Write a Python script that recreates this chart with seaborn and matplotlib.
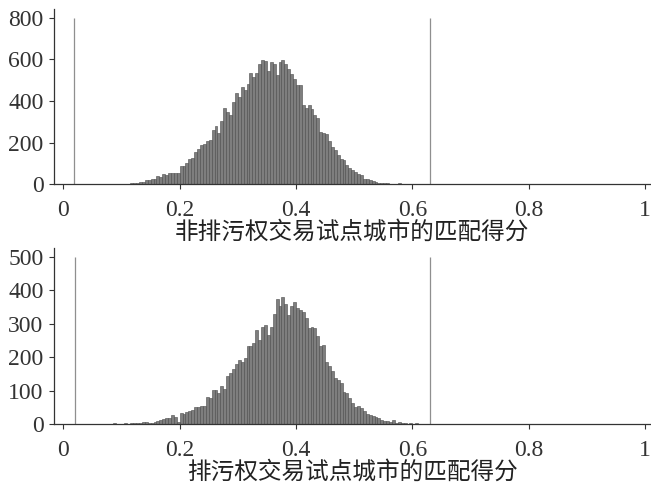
import numpy as np
import pandas as pd
import seaborn as sns
import matplotlib.pyplot as plt
from matplotlib.ticker import FixedLocator, FixedFormatter

# histogram data: bins of width 0.005 starting at 0.02
bin_start = 0.02
bin_width = 0.005

# non pilot cities (upper panel)
control_counts = [
    1, 0, 1, 1, 0, 1, 1, 1,
    1, 1, 2, 1, 1, 2, 2, 1,
    3, 2, 3, 4, 6, 8, 9, 11,
    20, 22, 25, 27, 40, 36, 48, 43, 52, 54, 55, 54,
    87, 89, 100, 122, 127, 155, 170, 190, 195, 208,
    212, 260, 278, 248, 304, 368, 347, 330, 395, 440,
    421, 467, 454, 482, 534, 515, 534, 579, 598, 592,
    544, 587, 579, 523, 587, 595, 576, 555, 528, 507,
    478, 475, 380, 368, 378, 360, 330, 318, 251, 246,
    243, 206, 179, 163, 139, 123, 115, 91, 78, 67,
    59, 48, 42, 27, 24, 19, 13, 11, 8, 6,
    5, 6, 3, 2, 2, 4, 3, 2, 2, 1,
    1, 2, 1, 1, 1, 1,
]

# pilot cities (lower panel)
treated_counts = [
    0, 1, 0, 0, 1, 0, 0, 1,
    1, 0, 1, 1, 1, 2, 1, 1,
    1, 2, 1, 3, 3, 2, 2, 7, 7, 4,
    4, 6, 9, 12, 14, 17, 19, 27, 20, 7,
    32, 30, 37, 40, 42, 52, 52, 54, 54, 82,
    77, 102, 102, 92, 114, 104, 144, 152, 164, 180,
    190, 184, 197, 232, 232, 242, 280, 252, 290, 297,
    267, 290, 330, 374, 352, 380, 360, 327, 354, 364,
    347, 340, 334, 317, 287, 290, 287, 262, 234, 237,
    184, 172, 157, 137, 132, 122, 97, 94, 77, 64,
    52, 54, 47, 40, 30, 27, 24, 20, 17, 12,
    9, 8, 7, 12, 4, 6, 3, 2, 1, 2,
    1, 2, 1, 0, 0, 1,
]

# min / max of the matched scores (grey vertical lines)
control_range = [0.0188, 0.630]
treated_range = [0.020, 0.630]

xticks = [0, 0.2, 0.4, 0.6, 0.8, 1]
xtick_labels = ['0', '0.2', '0.4', '0.6', '0.8', '1']
control_yticks = [0, 200, 400, 600, 800]
treated_yticks = [0, 100, 200, 300, 400, 500]
control_label = '非排污权交易试点城市的匹配得分'
treated_label = '排污权交易试点城市的匹配得分'

sns.set_style('ticks')
plt.rcParams['font.family'] = ['Liberation Serif', 'DejaVu Serif']
plt.rcParams['axes.edgecolor'] = '#333333'
plt.rcParams['xtick.color'] = '#333333'
plt.rcParams['ytick.color'] = '#333333'


def drawPanel(ax, counts, vline_x, yticks, ymax, label):
    n = len(counts)
    df = pd.DataFrame({'score': bin_start + bin_width * (np.arange(n) + 0.5),
                       'freq': counts})
    sns.histplot(data=df, x='score', weights='freq', binwidth=bin_width,
                 binrange=(bin_start, bin_start + n * bin_width), ax=ax,
                 color='#7e7e7e', edgecolor='#4a4a4a', linewidth=0.4, alpha=1)
    ax.vlines(vline_x, 0, yticks[-1], color='#8f8f8f', linewidth=0.9)
    ax.set_xlim(-0.016, 1.0086)
    ax.set_ylim(0, ymax)
    ax.xaxis.set_major_locator(FixedLocator(xticks))
    ax.xaxis.set_major_formatter(FixedFormatter(xtick_labels))
    ax.set_yticks(yticks)
    ax.tick_params(labelsize=17, length=3.5, width=0.8)
    ax.tick_params(axis='x', pad=8)
    ax.tick_params(axis='y', pad=4)
    ax.set_ylabel('')
    ax.set_xlabel(label, fontsize=17, family=['Noto Sans CJK SC', 'DejaVu Sans'],
                  fontweight='light', labelpad=0, color='#222222')
    for s in ['top', 'right']:
        ax.spines[s].set_visible(False)
    for s in ['left', 'bottom']:
        ax.spines[s].set_linewidth(0.9)


fig = plt.figure(figsize=(6.51, 4.86), dpi=100)
ax1 = fig.add_axes([0.083, 0.621, 0.9155, 0.360])
ax2 = fig.add_axes([0.083, 0.1276, 0.9155, 0.3615])

drawPanel(ax1, control_counts, control_range, control_yticks, 840, control_label)
drawPanel(ax2, treated_counts, treated_range, treated_yticks, 525, treated_label)

fig.savefig('out.png', dpi=100)
